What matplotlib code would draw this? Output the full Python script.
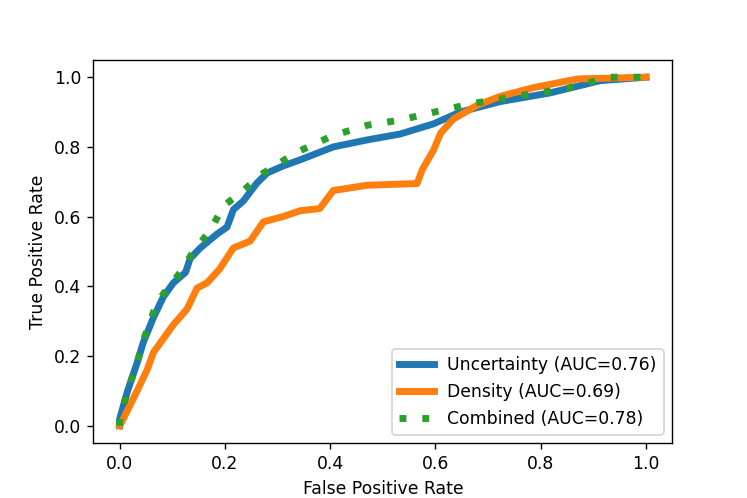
import numpy as np
import matplotlib
matplotlib.use('Agg')
import matplotlib.pyplot as plt

# ROC points
unc_fpr = [0.0, 0.0, 0.015, 0.033, 0.045, 0.064, 0.083, 0.102, 0.125, 0.134, 0.153, 0.185,
           0.204, 0.216, 0.235, 0.26, 0.28, 0.31, 0.343, 0.406, 0.47, 0.533, 0.596, 0.647,
           0.723, 0.818, 0.913, 1.0]
unc_tpr = [0.0, 0.02, 0.10, 0.18, 0.24, 0.31, 0.37, 0.41, 0.44, 0.48, 0.51, 0.55,
           0.57, 0.62, 0.645, 0.695, 0.725, 0.745, 0.763, 0.80, 0.82, 0.837, 0.866, 0.90,
           0.93, 0.955, 0.99, 1.0]

den_fpr = [0.0, 0.007, 0.033, 0.052, 0.064, 0.083, 0.102, 0.128, 0.147, 0.166, 0.19, 0.216,
           0.248, 0.273, 0.31, 0.343, 0.38, 0.406, 0.47, 0.565, 0.575, 0.596, 0.61, 0.634,
           0.68, 0.723, 0.786, 0.87, 1.0]
den_tpr = [0.0, 0.02, 0.10, 0.16, 0.21, 0.25, 0.29, 0.335, 0.395, 0.41, 0.45, 0.51,
           0.53, 0.585, 0.60, 0.617, 0.623, 0.675, 0.69, 0.695, 0.735, 0.79, 0.84, 0.88,
           0.92, 0.945, 0.97, 0.995, 1.0]

com_fpr = [0.0, 0.0, 0.015, 0.033, 0.045, 0.071, 0.115, 0.14, 0.172, 0.197, 0.235, 0.273,
           0.337, 0.406, 0.47, 0.533, 0.615, 0.672, 0.755, 0.85, 0.932, 1.0]
com_tpr = [0.0, 0.02, 0.10, 0.18, 0.245, 0.355, 0.44, 0.50, 0.56, 0.63, 0.675, 0.725,
           0.785, 0.833, 0.862, 0.877, 0.906, 0.925, 0.945, 0.968, 1.0, 1.0]

labels = ['Uncertainty (AUC=0.76)', 'Density (AUC=0.69)', 'Combined (AUC=0.78)']

fig = plt.figure(figsize=(6, 4), dpi=124.5)
plt.plot(unc_fpr, unc_tpr, color='tab:blue', linewidth=4, label=labels[0])
plt.plot(den_fpr, den_tpr, color='tab:orange', linewidth=4, label=labels[1])
plt.plot(com_fpr, com_tpr, color='tab:green', linewidth=4, linestyle=(0, (1, 2.3)), label=labels[2])

plt.xlabel('False Positive Rate')
plt.ylabel('True Positive Rate')
plt.legend(loc='lower right')

plt.savefig('out.png', dpi=124.5)
